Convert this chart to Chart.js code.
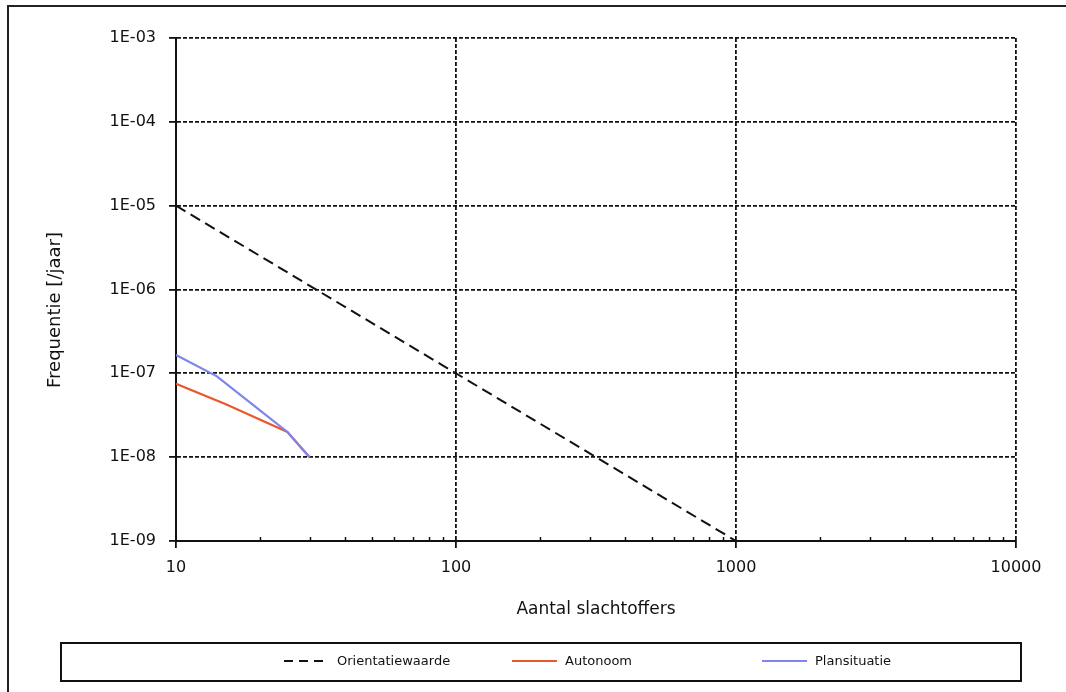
<!DOCTYPE html>
<html lang="nl">
<head>
    <meta charset="UTF-8">
    <title>FN-curve</title>
    <script src="https://cdn.jsdelivr.net/npm/chart.js"></script>
    <style>
        html, body { margin: 0; padding: 0; background: #fff; }
        #wrap { position: absolute; left: 0; top: 0; width: 1066px; height: 692px; overflow: hidden; }
        #frame { position: absolute; left: 7px; top: 5px; width: 1090px; height: 720px; border: 2px solid #222; pointer-events: none; }
        #legend { position: absolute; left: 60px; top: 642px; width: 958px; height: 36px; border: 2px solid #111; font-family: 'DejaVu Sans', sans-serif; font-size: 13px; color: #111; }
        .item { position: absolute; top: 9px; display: flex; align-items: center; }
        .item svg { margin-right: 8px; }
    </style>
</head>
<body>
<div id="wrap">
    <canvas id="fn-chart"></canvas>
    <div id="frame"></div>
    <div id="legend"></div>
</div>

<script>
    // data
    const orientX = [10, 1000];
    const orientY = [1e-5, 1e-9];

    const autonoomX = [10, 15, 20, 25, 30];
    const autonoomY = [7.5e-8, 4.3e-8, 2.8e-8, 2.0e-8, 1.0e-8];

    const plansX = [10, 14, 20, 25, 30];
    const plansY = [1.65e-7, 9.2e-8, 3.6e-8, 2.0e-8, 1.0e-8];

    const xTicks = [10, 100, 1000, 10000];
    const yTicks = [1e-9, 1e-8, 1e-7, 1e-6, 1e-5, 1e-4, 1e-3];

    const seriesNames = ['Orientatiewaarde', 'Autonoom', 'Plansituatie'];
    const seriesColors = ['#111111', '#e9582c', '#7f84ee'];
    const yTitle = 'Frequentie [/jaar]';

    const FONT = 'DejaVu Sans';

    function pts(xs, ys) {
        return xs.map((x, i) => ({ x: x, y: ys[i] }));
    }

    // small inward minor ticks on the x axis (2..9 per decade)
    const minorTicks = {
        id: 'minorTicks',
        afterDraw(chart) {
            const xs = chart.scales.x;
            const ctx = chart.ctx;
            const y0 = chart.chartArea.bottom;
            ctx.save();
            ctx.strokeStyle = '#111';
            ctx.lineWidth = 1.5;
            for (let d = 0; d < xTicks.length - 1; d++) {
                for (let m = 2; m <= 9; m++) {
                    const px = Math.round(xs.getPixelForValue(xTicks[d] * m)) + 0.5;
                    ctx.beginPath();
                    ctx.moveTo(px, y0);
                    ctx.lineTo(px, y0 - 4);
                    ctx.stroke();
                }
            }
            ctx.restore();
        }
    };

    // y title sits a bit below the axis middle in the original
    const yTitlePlugin = {
        id: 'yTitle',
        afterDraw(chart) {
            const ctx = chart.ctx;
            ctx.save();
            ctx.translate(55, 310);
            ctx.rotate(-Math.PI / 2);
            ctx.font = '18px "' + FONT + '"';
            ctx.fillStyle = '#111';
            ctx.textAlign = 'center';
            ctx.textBaseline = 'middle';
            ctx.fillText(yTitle, 0, 0);
            ctx.restore();
        }
    };

    const gridOpts = {
        color: '#111',
        lineWidth: 1.8,
        tickLength: 7,
        tickColor: '#111',
        tickWidth: 1.8
    };

    const ctx = document.getElementById('fn-chart').getContext('2d');
    const chart = new Chart(ctx, {
        type: 'line',
        data: {
            datasets: [
                {
                    label: seriesNames[0],
                    data: pts(orientX, orientY),
                    borderColor: seriesColors[0],
                    borderWidth: 2,
                    borderDash: [11, 6],
                    order: 2
                },
                {
                    label: seriesNames[1],
                    data: pts(autonoomX, autonoomY),
                    borderColor: seriesColors[1],
                    borderWidth: 2.2,
                    order: 1
                },
                {
                    label: seriesNames[2],
                    data: pts(plansX, plansY),
                    borderColor: seriesColors[2],
                    borderWidth: 2.2,
                    order: 0
                }
            ]
        },
        options: {
            responsive: true,
            maintainAspectRatio: false,
            animation: false,
            elements: {
                point: { radius: 0 },
                line: { tension: 0, fill: false }
            },
            layout: {
                padding: { left: 0, top: 38, right: 50, bottom: 68 }
            },
            plugins: {
                legend: { display: false },
                tooltip: { enabled: false }
            },
            scales: {
                x: {
                    type: 'logarithmic',
                    min: 10,
                    max: 10000,
                    afterBuildTicks: (scale) => { scale.ticks = xTicks.map(v => ({ value: v })); },
                    afterFit: (scale) => { scale.height = 83; },
                    grid: gridOpts,
                    border: { color: '#111', width: 2, dash: [4, 2] },
                    ticks: {
                        color: '#111',
                        padding: 10,
                        maxRotation: 0,
                        font: { family: FONT, size: 16 },
                        callback: (v) => String(v)
                    },
                    title: {
                        display: true,
                        text: 'Aantal slachtoffers',
                        color: '#111',
                        font: { family: FONT, size: 17 },
                        padding: { top: 4, bottom: 4 }
                    }
                },
                y: {
                    type: 'logarithmic',
                    min: 1e-9,
                    max: 1e-3,
                    afterBuildTicks: (scale) => { scale.ticks = yTicks.map(v => ({ value: v })); },
                    afterFit: (scale) => { scale.width = 176; },
                    grid: gridOpts,
                    border: { color: '#111', width: 2, dash: [4, 2] },
                    ticks: {
                        color: '#111',
                        padding: 13,
                        font: { family: FONT, size: 16 },
                        callback: (v) => {
                            const e = Math.round(Math.log10(v));
                            return '1E-' + String(-e).padStart(2, '0');
                        }
                    },
                    title: { display: false }
                }
            }
        },
        plugins: [minorTicks, yTitlePlugin]
    });

    // legend box drawn as html, items taken from the datasets
    const legendLeft = [222, 450, 700];
    const legend = document.getElementById('legend');
    chart.data.datasets.forEach((ds, i) => {
        const item = document.createElement('div');
        item.className = 'item';
        item.style.left = legendLeft[i] + 'px';
        const dash = ds.borderDash ? 'stroke-dasharray="9 6"' : '';
        item.innerHTML = '<svg width="45" height="14"><line x1="0" y1="7" x2="45" y2="7" stroke="' +
            ds.borderColor + '" stroke-width="2" ' + dash + '/></svg><span>' + ds.label + '</span>';
        legend.appendChild(item);
    });
</script>
</body>
</html>
